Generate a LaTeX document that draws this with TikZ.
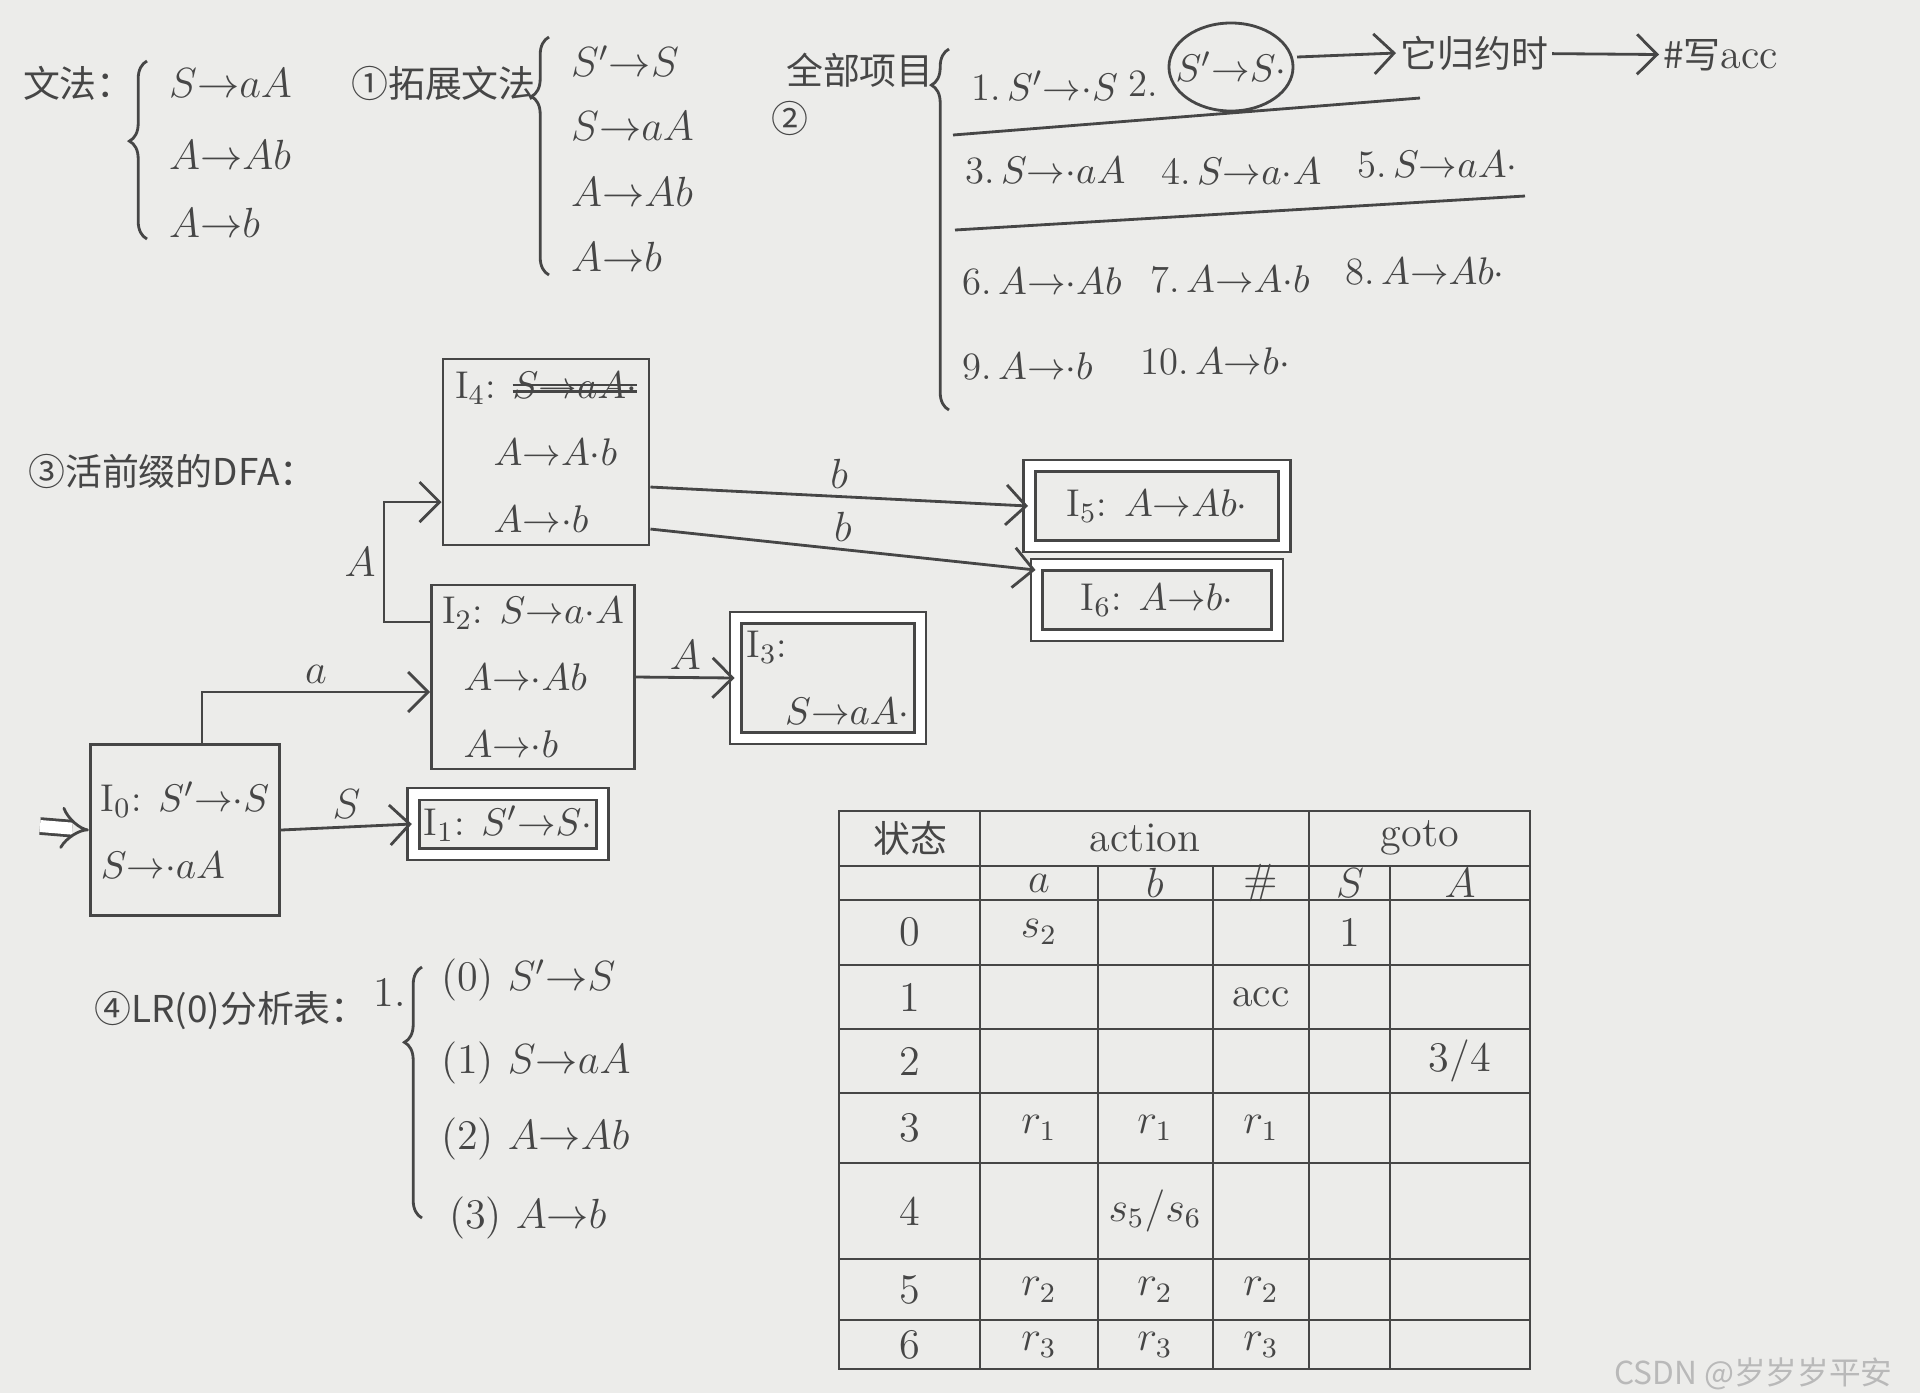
\documentclass[tikz,border=0pt]{standalone}
\usepackage{fontspec}
\usetikzlibrary{arrows.meta,decorations.pathreplacing,positioning}
\newfontfamily\cjk{Noto Sans CJK SC}
\definecolor{ink}{RGB}{70,70,70}
\definecolor{paper}{RGB}{236,236,234}
\newcommand{\pto}{{\rightarrow}}
\newcommand{\dt}{{\cdot}}
\newsavebox\strikebox
\newcommand{\struck}[1]{\sbox\strikebox{#1}\rlap{\usebox\strikebox}\rlap{\rule[0.35ex]{\wd\strikebox}{0.6pt}}\rule[0.75ex]{\wd\strikebox}{0.6pt}}

\begin{document}
\begin{tikzpicture}[
    x=0.01cm, y=-0.01cm,
    txt/.style={font=\fontsize{12}{14}\selectfont, text=ink, inner sep=1pt},
    item/.style={font=\fontsize{11}{13}\selectfont, text=ink, inner sep=1pt, anchor=west},
    cn/.style={font=\cjk\fontsize{10.5}{13}\selectfont, text=ink, inner sep=1pt},
    state/.style={draw=ink, thick, align=left, font=\fontsize{11}{19}\selectfont, text=ink, inner sep=3pt},
    final/.style={state, double, double distance=0.9mm},
    move/.style={-{Straight Barb[length=2mm]}, thick, draw=ink},
    lbl/.style={font=\fontsize{12}{14}\selectfont, text=ink, inner sep=2pt},
    brace/.style={decorate, decoration={brace, amplitude=5pt, aspect=#1}, thick, draw=ink},
    rule/.style={thick, draw=ink},
    cell/.style={font=\fontsize{12}{14}\selectfont, text=ink, inner sep=1pt}
]
\useasboundingbox (0,0) rectangle (1920,1393);
\fill[paper] (0,0) rectangle (1920,1393);

% Grammar
\node[cn, anchor=east] (gram) at (138,83) {文法：};
\draw[brace=0.55] (147,239) -- (147,61);
\node[txt, anchor=west] (g1) at (165,83) {$S\pto aA$};
\node[txt, anchor=west] (g2) at (165,155) {$A\pto Ab$};
\node[txt, anchor=west] (g3) at (165,223) {$A\pto b$};

% Augmented grammar
\node[cn, anchor=east] (aug) at (540,83) {①拓展文法};
\draw[brace=0.75] (549,275) -- (549,37);
\node[txt, anchor=west] (a0) at (567,61) {$S'\pto S$};
\node[txt, anchor=west] (a1) at (567,126) {$S\pto aA$};
\node[txt, anchor=west] (a2) at (567,192) {$A\pto Ab$};
\node[txt, anchor=west] (a3) at (567,257) {$A\pto b$};

% All items
\node[cn] (no2) at (790,118) {②};
\node[cn, anchor=east] (items) at (938,70) {全部项目};
\draw[brace=0.9] (949,410) -- (949,49);
\node[item] (it1) at (967,86) {1.\,$S'\pto\dt S$};
\node[item] (it2) at (1124,84) {2.};
\node[item, anchor=center] (it2x) at (1231,67) {$S'\pto S\dt$};
\draw[thick, ink] (it2x.center) ellipse (0.62cm and 0.44cm);
\node[cn, anchor=west] (redc) at (1396,53) {它归约时};
\node[cn, anchor=west] (accw) at (1659,55) {\#写{\rmfamily\fontsize{12}{14}\selectfont acc}};
\draw[move] ([xshift=0.66cm,yshift=0.1cm]it2x.center) -- (redc.west);
\draw[move] (redc) -- (accw);

\draw[rule] (953,135) -- (1420,98);
\node[item] (it3) at (961,171) {3.\,$S\pto\dt aA$};
\node[item] (it4) at (1157,171) {4.\,$S\pto a\dt A$};
\node[item] (it5) at (1353,165) {5.\,$S\pto aA\dt$};
\draw[rule] (955,230) -- (1525,196);
\node[item] (it6) at (958,282) {6.\,$A\pto\dt Ab$};
\node[item] (it7) at (1146,280) {7.\,$A\pto A\dt b$};
\node[item] (it8) at (1341,272) {8.\,$A\pto Ab\dt$};
\node[item] (it9) at (958,367) {9.\,$A\pto\dt b$};
\node[item] (it10) at (1136,362) {10.\,$A\pto b\dt$};

% DFA of viable prefixes
\node[cn, anchor=west] (dfa) at (24,471) {③活前缀的DFA：};
\node[state, minimum width=1.62cm, minimum height=1.71cm] (I0) at (185,830) {I$_0$: $S'\pto\dt S$\\$S\pto\dt aA$};
\node[final, minimum width=1.75cm, minimum height=0.6cm] (I1) at (508,824) {I$_1$: $S'\pto S\dt$};
\node[state, minimum width=1.96cm, minimum height=1.84cm] (I2) at (533,677) {I$_2$: $S\pto a\dt A$\\\;\;$A\pto\dt Ab$\\\;\;$A\pto\dt b$};
\node[state, minimum width=2.06cm, minimum height=1.86cm] (I4) at (546,452) {I$_4$: \struck{$S\pto aA\dt$}\\\quad$A\pto A\dt b$\\\quad$A\pto\dt b$};
\node[final, minimum width=1.8cm, minimum height=1.2cm] (I3) at (828,678) {I$_3$:\\\quad$S\pto aA\dt$};
\node[final, minimum width=2.55cm, minimum height=0.8cm] (I5) at (1157,506) {I$_5$: $A\pto Ab\dt$};
\node[final, minimum width=2.4cm, minimum height=0.7cm] (I6) at (1157,600) {I$_6$: $A\pto b\dt$};

% Transitions
\coordinate (start) at (40,826);
\draw[ink, thick, double, double distance=1.2mm, -{Implies}] (start) -- (I0.west);
\draw[move] (I0.east) -- node[lbl, above] {$S$} (I1.west);
\draw[move] ([xshift=0.17cm]I0.north) |- node[lbl, pos=0.75, above] {$a$} ([yshift=-0.15cm]I2.west);
\draw[move] ([yshift=0.55cm]I2.west) -- ++(-46,0) |- node[lbl, pos=0.25, left] {$A$} ([yshift=-0.5cm]I4.west);
\draw[move] (I2.east) -- node[lbl, above] {$A$} (I3.west);
\draw[move] ([yshift=-0.35cm]I4.east) -- node[lbl, above] {$b$} (I5.west);
\draw[move] ([yshift=-0.77cm]I4.east) -- node[lbl, above] {$b$} ([yshift=0.3cm]I6.west);

% LR(0) productions
\node[cn, anchor=west] (lr) at (90,1010) {④LR(0)分析表：};
\node[txt, anchor=east] (one) at (410,992) {1.};
\draw[brace=0.7] (422,1218) -- (422,967);
\node[txt, anchor=west] (p0) at (437,980) {(0) $S'\pto S$};
\node[txt, anchor=west] (p1) at (437,1063) {(1) $S\pto aA$};
\node[txt, anchor=west] (p2) at (437,1139) {(2) $A\pto Ab$};
\node[txt, anchor=west] (p3) at (445,1218) {(3) $A\pto b$};

% Parsing table grid
\draw[rule] (839,811) rectangle (1530,1369);
\draw[rule] (839,866) -- (1530,866);
\draw[rule] (839,900) -- (1530,900);
\draw[rule] (839,965) -- (1530,965);
\draw[rule] (839,1029) -- (1530,1029);
\draw[rule] (839,1093) -- (1530,1093);
\draw[rule] (839,1163) -- (1530,1163);
\draw[rule] (839,1259) -- (1530,1259);
\draw[rule] (839,1320) -- (1530,1320);
\draw[rule] (980,811) -- (980,1369);
\draw[rule] (1309,811) -- (1309,1369);
\draw[rule] (1098,866) -- (1098,1369);
\draw[rule] (1213,866) -- (1213,1369);
\draw[rule] (1390,866) -- (1390,1369);

% Table headers
\node[cn] (hstate) at (910,838) {状态};
\node[cell] (haction) at (1145,838) {action};
\node[cell] (hgoto) at (1420,838) {goto};
\node[cell] (ha) at (1039,883) {$a$};
\node[cell] (hb) at (1155,883) {$b$};
\node[cell] (hend) at (1261,883) {\#};
\node[cell] (hS) at (1350,883) {$S$};
\node[cell] (hA) at (1460,883) {$A$};

% Table rows
\node[cell] (st0) at (910,932) {0};
\node[cell] (st1) at (910,997) {1};
\node[cell] (st2) at (910,1061) {2};
\node[cell] (st3) at (910,1128) {3};
\node[cell] (st4) at (910,1211) {4};
\node[cell] (st5) at (910,1290) {5};
\node[cell] (st6) at (910,1345) {6};
\node[cell] (c0a) at (1039,932) {$s_2$};
\node[cell] (c0S) at (1350,932) {1};
\node[cell] (c1e) at (1261,997) {acc};
\node[cell] (c2A) at (1460,1061) {3/4};
\node[cell] (c3a) at (1039,1128) {$r_1$};
\node[cell] (c3b) at (1155,1128) {$r_1$};
\node[cell] (c3e) at (1261,1128) {$r_1$};
\node[cell] (c4b) at (1155,1211) {$s_5/s_6$};
\node[cell] (c5a) at (1039,1290) {$r_2$};
\node[cell] (c5b) at (1155,1290) {$r_2$};
\node[cell] (c5e) at (1261,1290) {$r_2$};
\node[cell] (c6a) at (1039,1345) {$r_3$};
\node[cell] (c6b) at (1155,1345) {$r_3$};
\node[cell] (c6e) at (1261,1345) {$r_3$};

% Watermark
\node[font=\cjk\fontsize{9}{11}\selectfont, text=gray!55, anchor=east] (mark) at (1905,1374) {CSDN @岁岁岁平安};
\end{tikzpicture}
\end{document}
